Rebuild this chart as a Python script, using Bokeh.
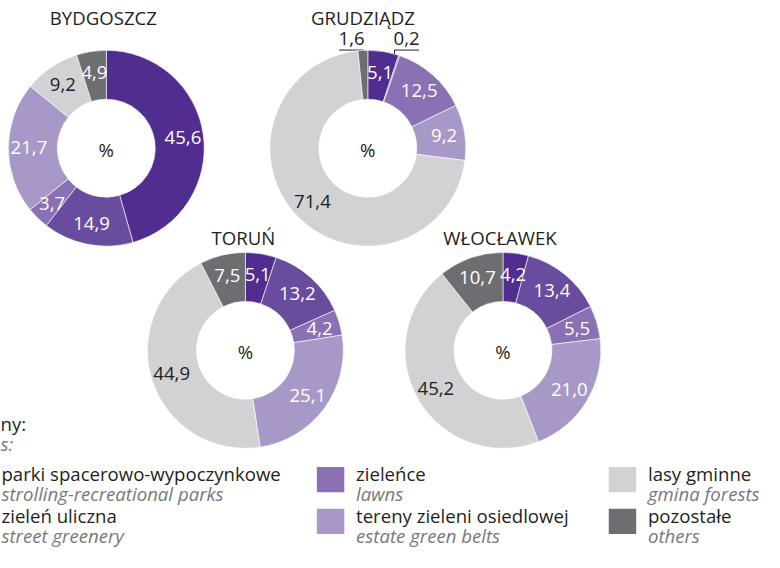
import math
from bokeh.plotting import figure
from bokeh.models import Range1d, ColumnDataSource
from bokeh.core.properties import value
from bokeh.embed import file_html
from bokeh.resources import INLINE

# ---------------- data ----------------
cities = ["BYDGOSZCZ", "GRUDZIĄDZ", "TORUŃ", "WŁOCŁAWEK"]
categories_pl = ["parki spacerowo-wypoczynkowe", "zieleń uliczna", "zieleńce",
                 "tereny zieleni osiedlowej", "lasy gminne", "pozostałe"]
categories_en = ["strolling-recreational parks", "street greenery", "lawns",
                 "estate green belts", "gmina forests", "others"]
bydgoszcz = [45.6, 14.9, 3.7, 21.7, 9.2, 4.9]
grudziadz = [5.1, 0.2, 12.5, 9.2, 71.4, 1.6]
torun = [5.1, 13.2, 4.2, 25.1, 44.9, 7.5]
wloclawek = [4.2, 13.4, 5.5, 21.0, 45.2, 10.7]
series = [bydgoszcz, grudziadz, torun, wloclawek]
header_pl = "ny:"
header_en = "s:"

colors = ["#512d8f", "#6a4c9e", "#8a71b3", "#a898c8", "#d1d2d4", "#6d6e71"]
label_colors = ["white", "white", "white", "white", "#231f20", "white"]

# ---------------- layout (reference pixel space) ----------------
W, H = 764, 552
RW, RH = 780, 568
SX = W / RW
FONT = "Open Sans"
DARK = "#231f20"
GREY = "#77787b"


def Y(v):
    return RH - v


def fs(px):
    return f"{px * SX:.1f}px"


centers = [(108, 152), (375, 152), (250, 360), (513, 360)]
title_pos = [(105, 18), (370, 18), (248, 244), (510, 244)]
R_OUT, R_IN, R_LAB = 100, 50, 79
outside = {1: [1, 5]}  # Grudziądz: tiny slices labelled outside

p = figure(width=W, height=H, output_backend="svg", toolbar_location=None,
           x_range=Range1d(0, RW), y_range=Range1d(0, RH), min_border=0)
p.axis.visible = False
p.grid.visible = False
p.outline_line_color = None
p.background_fill_color = "white"

LBL = 19
for ci, vals in enumerate(series):
    cx, cy = centers[ci]
    total = sum(vals)
    starts, ends, lx, ly, ltxt, lcol = [], [], [], [], [], []
    c0 = 0.0
    for k, v in enumerate(vals):
        f0 = c0 / total
        f1 = (c0 + v) / total
        starts.append(math.pi / 2 - 2 * math.pi * f1)
        ends.append(math.pi / 2 - 2 * math.pi * f0)
        mid = (f0 + f1) / 2 * 2 * math.pi
        if k not in outside.get(ci, []):
            lx.append(cx + R_LAB * math.sin(mid))
            ly.append(Y(cy) + R_LAB * math.cos(mid))
            ltxt.append(f"{v:.1f}".replace(".", ","))
            lcol.append(label_colors[k])
        else:
            # leader line + underlined outside label
            ex = cx + 85 * math.sin(mid)
            ey = Y(cy) + 85 * math.cos(mid)
            top = Y(51)
            p.line([ex, ex], [ey, top], line_color=DARK, line_width=1)
            txt = f"{v:.1f}".replace(".", ",")
            if math.sin(mid) < 0:
                p.line([ex - 25, ex], [top, top], line_color=DARK, line_width=1)
                p.text([ex + 1], [top + 12], text=[txt], text_align="right",
                       text_baseline="middle", text_color=DARK,
                       text_font=value(FONT), text_font_size=fs(LBL))
            else:
                p.line([ex, ex + 25], [top, top], line_color=DARK, line_width=1)
                p.text([ex - 1], [top + 12], text=[txt], text_align="left",
                       text_baseline="middle", text_color=DARK,
                       text_font=value(FONT), text_font_size=fs(LBL))
        c0 += v
    src = ColumnDataSource(dict(x=[cx] * len(vals), y=[Y(cy)] * len(vals),
                                s=starts, e=ends, c=colors))
    p.annular_wedge(x="x", y="y", inner_radius=R_IN, outer_radius=R_OUT,
                    start_angle="s", end_angle="e", fill_color="c",
                    line_color="white", line_width=0.6, source=src)
    p.text(lx, ly, text=ltxt, text_color=lcol, text_align="center",
           text_baseline="middle", text_font=value(FONT), text_font_size=fs(LBL))
    p.text([cx], [Y(cy) - 1], text=["%"], text_color=DARK, text_align="center",
           text_baseline="middle", text_font=value(FONT), text_font_size=fs(LBL))
    tx, ty = title_pos[ci]
    p.text([tx], [Y(ty)], text=[cities[ci]], text_color=DARK, text_align="center",
           text_baseline="middle", text_font=value(FONT), text_font_size=fs(19))

# ---------------- legend ----------------
LEG = 19
p.text([0], [Y(435)], text=[header_pl], text_color=DARK, text_baseline="middle",
       text_font=value(FONT), text_font_size=fs(LEG))
p.text([0], [Y(456)], text=[header_en], text_color=GREY, text_baseline="middle",
       text_font=value(FONT), text_font_size=fs(LEG), text_font_style="italic")

leg_cols = [(-40, 1), (323, 363), (621, 661)]
for i in range(6):
    col, row = divmod(i, 2)
    sx, tx = leg_cols[col]
    ycap = 487 + row * 43
    if sx >= 0:
        p.quad(left=[sx], right=[sx + 28], top=[Y(ycap - 7)], bottom=[Y(ycap + 19)],
               fill_color=colors[i], line_color=None)
    p.text([tx], [Y(ycap)], text=[categories_pl[i]], text_color=DARK,
           text_baseline="middle", text_font=value(FONT), text_font_size=fs(LEG))
    p.text([tx], [Y(ycap + 20)], text=[categories_en[i]], text_color=GREY,
           text_baseline="middle", text_font=value(FONT), text_font_size=fs(LEG),
           text_font_style="italic")

open("out.html", "w").write(file_html(p, INLINE))
